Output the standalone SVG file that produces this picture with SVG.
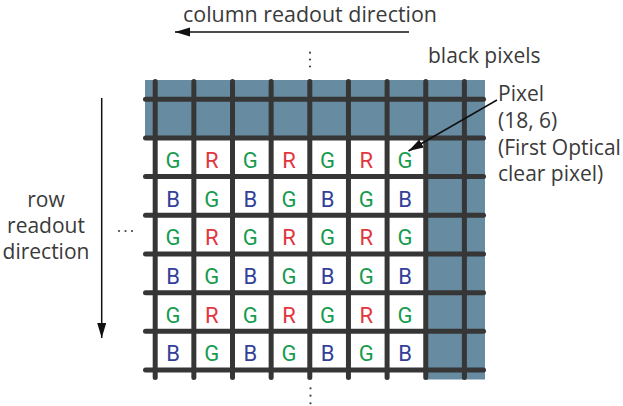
<svg xmlns="http://www.w3.org/2000/svg" width="623" height="406" viewBox="0 0 623 406">
  <style>
    .lbl { font-family: "Open Sans", "Liberation Sans", sans-serif; font-size: 21px; fill: #3a3a3a; }
    .px { font-family: Roboto, "Open Sans", sans-serif; font-size: 22px; text-anchor: middle; }
    .g { fill: #179b4f; }
    .r { fill: #e2363f; }
    .b { fill: #343f99; }
    .grid line { stroke: #363636; stroke-width: 5; stroke-linecap: round; }
    .blk { fill: #678ca1; }
    .dot { fill: #444; }
    .arr { stroke: #111; stroke-width: 1.5; fill: none; }
  </style>
  <defs>
    <marker id="ah" markerUnits="userSpaceOnUse" markerWidth="16" markerHeight="10" refX="15" refY="4.5" orient="auto">
      <path d="M0,0 L15,4.5 L0,9 z" fill="#111"/>
    </marker>
  </defs>
  <rect width="623" height="406" fill="#fff"/>

  <g id="black-pixels-area">
    <rect class="blk" x="145" y="80" width="340" height="58.3"/>
    <rect class="blk" x="425.75" y="80" width="59.25" height="299.5"/>
  </g>

  <g id="grid" class="grid">
    <line x1="155.2" y1="81.5" x2="155.2" y2="377.5"/>
    <line x1="193.85" y1="81.5" x2="193.85" y2="377.5"/>
    <line x1="232.5" y1="81.5" x2="232.5" y2="377.5"/>
    <line x1="271.15" y1="81.5" x2="271.15" y2="377.5"/>
    <line x1="309.8" y1="81.5" x2="309.8" y2="377.5"/>
    <line x1="348.45" y1="81.5" x2="348.45" y2="377.5"/>
    <line x1="387.1" y1="81.5" x2="387.1" y2="377.5"/>
    <line x1="425.75" y1="81.5" x2="425.75" y2="377.5"/>
    <line x1="464.4" y1="81.5" x2="464.4" y2="377.5"/>
    <line x1="145.5" y1="99.3" x2="483.5" y2="99.3"/>
    <line x1="145.5" y1="138" x2="483.5" y2="138"/>
    <line x1="145.5" y1="176.6" x2="483.5" y2="176.6"/>
    <line x1="145.5" y1="215.3" x2="483.5" y2="215.3"/>
    <line x1="145.5" y1="254" x2="483.5" y2="254"/>
    <line x1="145.5" y1="292.7" x2="483.5" y2="292.7"/>
    <line x1="145.5" y1="331.3" x2="483.5" y2="331.3"/>
    <line x1="145.5" y1="370" x2="483.5" y2="370"/>
  </g>

  <g id="pixels">
    <g id="row1">
      <text class="px g" x="173" y="168">G</text>
      <text class="px r" x="211.7" y="168">R</text>
      <text class="px g" x="250.3" y="168">G</text>
      <text class="px r" x="289" y="168">R</text>
      <text class="px g" x="327.6" y="168">G</text>
      <text class="px r" x="366.3" y="168">R</text>
      <text class="px g" x="405" y="168">G</text>
    </g>
    <g id="row2">
      <text class="px b" x="173" y="206.5">B</text>
      <text class="px g" x="211.7" y="206.5">G</text>
      <text class="px b" x="250.3" y="206.5">B</text>
      <text class="px g" x="289" y="206.5">G</text>
      <text class="px b" x="327.6" y="206.5">B</text>
      <text class="px g" x="366.3" y="206.5">G</text>
      <text class="px b" x="405" y="206.5">B</text>
    </g>
    <g id="row3">
      <text class="px g" x="173" y="245.2">G</text>
      <text class="px r" x="211.7" y="245.2">R</text>
      <text class="px g" x="250.3" y="245.2">G</text>
      <text class="px r" x="289" y="245.2">R</text>
      <text class="px g" x="327.6" y="245.2">G</text>
      <text class="px r" x="366.3" y="245.2">R</text>
      <text class="px g" x="405" y="245.2">G</text>
    </g>
    <g id="row4">
      <text class="px b" x="173" y="283.8">B</text>
      <text class="px g" x="211.7" y="283.8">G</text>
      <text class="px b" x="250.3" y="283.8">B</text>
      <text class="px g" x="289" y="283.8">G</text>
      <text class="px b" x="327.6" y="283.8">B</text>
      <text class="px g" x="366.3" y="283.8">G</text>
      <text class="px b" x="405" y="283.8">B</text>
    </g>
    <g id="row5">
      <text class="px g" x="173" y="322.6">G</text>
      <text class="px r" x="211.7" y="322.6">R</text>
      <text class="px g" x="250.3" y="322.6">G</text>
      <text class="px r" x="289" y="322.6">R</text>
      <text class="px g" x="327.6" y="322.6">G</text>
      <text class="px r" x="366.3" y="322.6">R</text>
      <text class="px g" x="405" y="322.6">G</text>
    </g>
    <g id="row6">
      <text class="px b" x="173" y="361.4">B</text>
      <text class="px g" x="211.7" y="361.4">G</text>
      <text class="px b" x="250.3" y="361.4">B</text>
      <text class="px g" x="289" y="361.4">G</text>
      <text class="px b" x="327.6" y="361.4">B</text>
      <text class="px g" x="366.3" y="361.4">G</text>
      <text class="px b" x="405" y="361.4">B</text>
    </g>
  </g>

  <g id="ellipses">
    <circle class="dot" cx="310" cy="52.7" r="1.1"/>
    <circle class="dot" cx="310" cy="59.5" r="1.1"/>
    <circle class="dot" cx="310" cy="66.5" r="1.1"/>
    <circle class="dot" cx="310.5" cy="388.3" r="1.1"/>
    <circle class="dot" cx="310.5" cy="395.7" r="1.1"/>
    <circle class="dot" cx="310.5" cy="403.3" r="1.1"/>
    <circle class="dot" cx="119" cy="231" r="1.1"/>
    <circle class="dot" cx="125.5" cy="231" r="1.1"/>
    <circle class="dot" cx="132" cy="231" r="1.1"/>
  </g>

  <g id="label-column">
    <text class="lbl" x="183" y="22" textLength="254" lengthAdjust="spacingAndGlyphs">column readout direction</text>
  </g>
  <g id="label-black">
    <text class="lbl" x="428" y="63">black pixels</text>
  </g>
  <g id="label-pixel">
    <text class="lbl" x="498" y="100.7">Pixel</text>
    <text class="lbl" x="498" y="127.7">(18, 6)</text>
    <text class="lbl" x="498" y="154.7">(First Optical</text>
    <text class="lbl" x="498" y="181">clear pixel)</text>
  </g>
  <g id="label-row">
    <text class="lbl" x="46" y="207" text-anchor="middle">row</text>
    <text class="lbl" x="46" y="233" text-anchor="middle">readout</text>
    <text class="lbl" x="46" y="258.5" text-anchor="middle">direction</text>
  </g>

  <g id="connectors">
    <line class="arr" x1="409" y1="32" x2="175" y2="32" marker-end="url(#ah)"/>
    <line class="arr" x1="101.7" y1="98" x2="101.7" y2="338" marker-end="url(#ah)"/>
    <line class="arr" x1="497" y1="100" x2="408.5" y2="151" marker-end="url(#ah)"/>
  </g>
</svg>
